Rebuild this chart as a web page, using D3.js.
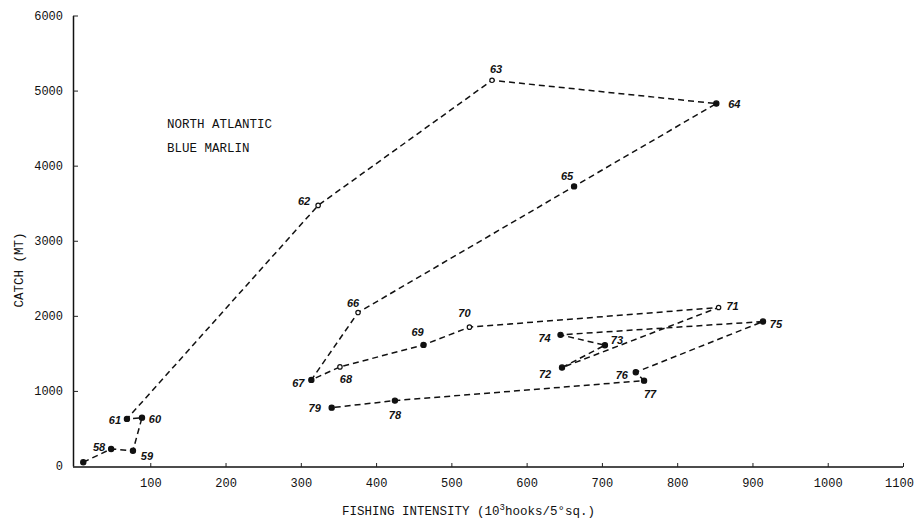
<!DOCTYPE html>
<html>
<head>
<meta charset="utf-8">
<script src="https://cdn.jsdelivr.net/npm/d3@7"></script>
<style>
  body { margin: 0; background: #fff; }
  svg { display: block; }
  .tick text { font-family: "Liberation Mono", monospace; font-size: 12px; fill: #111; }
  .lbl { font-family: "Liberation Sans", sans-serif; font-style: italic; font-weight: bold; font-size: 11px; fill: #111; }
  .ttl { font-family: "Liberation Mono", monospace; font-size: 12.5px; fill: #111; }
</style>
</head>
<body>
<svg width="919" height="524"></svg>
<script>
// year labels (first point unlabeled)
const years = ["", "58", "59", "60", "61", "62", "63", "64", "65", "66", "67", "68",
  "69", "70", "71", "72", "73", "74", "75", "76", "77", "78", "79"];
// fishing intensity, 10^3 hooks / 5° sq.
const intensity = [11, 48, 77, 89, 69, 323, 554, 852, 663, 376, 314, 352,
  463, 524, 855, 647, 704, 645, 914, 745, 756, 425, 341];
// catch, MT
const catchMT = [50, 227, 204, 644, 627, 3471, 5137, 4827, 3724, 2044, 1147, 1320,
  1613, 1849, 2111, 1311, 1609, 1747, 1924, 1249, 1137, 871, 777];
// points drawn as open circles
const openYears = ["62", "63", "66", "68", "70", "71"];

const xTicks = [100, 200, 300, 400, 500, 600, 700, 800, 900, 1000, 1100];
const yTicks = [0, 1000, 2000, 3000, 4000, 5000, 6000];

// where each year label sits around its point
const labelOffset = {
  "58": [-12, -2], "59": [14, 5], "60": [13, 1], "61": [-12, 1], "62": [-14, -4],
  "63": [4, -11], "64": [18, 0], "65": [-7, -10], "66": [-5, -10], "67": [-13, 3],
  "68": [6, 12], "69": [-6, -13], "70": [-5, -14], "71": [14, -1], "72": [-17, 6],
  "73": [12, -5], "74": [-16, 3], "75": [13, 2], "76": [-14, 3], "77": [6, 13],
  "78": [0, 14], "79": [-17, 0]
};

const data = years.map((yr, i) => ({ year: yr, x: intensity[i], y: catchMT[i] }));

const svg = d3.select("svg");

const x = d3.scaleLinear().domain([0, 1100]).range([75, 903]);
const y = d3.scaleLinear().domain([0, 6000]).range([466, 15.5]);

// x axis, ticks pointing inward
const gx = svg.append("g")
  .attr("transform", "translate(0,467)")
  .call(d3.axisBottom(x).tickValues(xTicks).tickFormat(d3.format("d"))
    .tickSizeInner(-4).tickSizeOuter(0).tickPadding(11));
gx.select(".domain").attr("d", "M73,0H903").attr("stroke", "#111").attr("stroke-width", 1.5);
gx.selectAll(".tick line").attr("stroke", "#222");
gx.selectAll(".tick").filter(d => d === 1100).select("text").attr("dx", -4);

// y axis
const gy = svg.append("g")
  .attr("transform", "translate(73,0)")
  .call(d3.axisLeft(y).tickValues(yTicks).tickFormat(d3.format("d"))
    .tickSizeInner(-5).tickSizeOuter(0).tickPadding(10));
gy.select(".domain").attr("stroke", "#111").attr("stroke-width", 1.5);
gy.selectAll(".tick line").attr("stroke", "#222");
gy.selectAll(".tick").filter(d => d === 0).select("line").remove();

// axis titles
svg.append("text").attr("class", "ttl")
  .attr("x", 342).attr("y", 515)
  .attr("font-size", "12px")
  .text("FISHING INTENSITY (10")
  .append("tspan").attr("dy", -5).attr("font-size", "9px").text("3")
  .select(function() { return this.parentNode; })
  .append("tspan").attr("dy", 5).text("hooks/5°sq.)");

svg.append("text").attr("class", "ttl")
  .attr("transform", "translate(23,270) rotate(-90)")
  .attr("text-anchor", "middle")
  .attr("font-size", "8.5px")
  .text("CATCH (MT)");

// chart title
svg.append("text").attr("class", "ttl").attr("x", 167).attr("y", 128).text("NORTH ATLANTIC");
svg.append("text").attr("class", "ttl").attr("x", 167).attr("y", 152).text("BLUE MARLIN");

// dashed trajectory
const line = d3.line().x(d => x(d.x)).y(d => y(d.y));
svg.append("path")
  .datum(data)
  .attr("fill", "none")
  .attr("stroke", "#111")
  .attr("stroke-width", 1.5)
  .attr("stroke-dasharray", "6,4")
  .attr("d", line);

// points
svg.selectAll("circle.pt")
  .data(data)
  .join("circle")
  .attr("class", "pt")
  .attr("cx", d => x(d.x))
  .attr("cy", d => y(d.y))
  .attr("r", d => openYears.includes(d.year) ? 2.2 : 2.6)
  .attr("fill", d => openYears.includes(d.year) ? "#fff" : "#111")
  .attr("stroke", "#111")
  .attr("stroke-width", 1.2);

// year labels
svg.selectAll("text.lbl")
  .data(data.filter(d => d.year !== ""))
  .join("text")
  .attr("class", "lbl")
  .attr("x", d => x(d.x) + labelOffset[d.year][0])
  .attr("y", d => y(d.y) + labelOffset[d.year][1])
  .attr("text-anchor", "middle")
  .attr("dominant-baseline", "central")
  .text(d => d.year);
</script>
</body>
</html>
